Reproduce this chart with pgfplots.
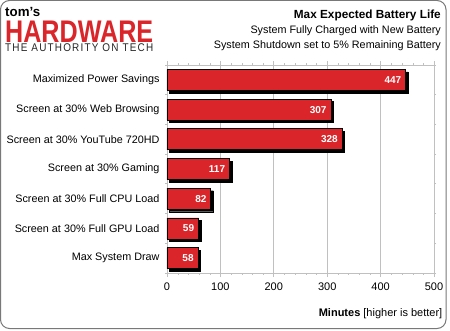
\documentclass[border=0pt]{standalone}
\usepackage{pgfplots}
\pgfplotsset{compat=1.18}
\usepackage{fontspec}
\setmainfont{Liberation Sans}
\definecolor{barred}{RGB}{218,38,42}
\definecolor{gridgray}{RGB}{192,192,192}
\definecolor{bordergray}{RGB}{120,120,120}
\begin{document}
\begin{tikzpicture}[x=1pt,y=1pt]
\useasboundingbox (0,0) rectangle (450,330);
\draw[bordergray, line width=1pt, rounded corners=9pt] (0.5,1.5) rectangle (446,329.5);
% logo
\node[anchor=base west, inner sep=0pt] at (5,330-16.5) {\resizebox{35pt}{!}{\bfseries tom's}};
\node[anchor=base west, inner sep=0pt, text=barred] at (5,330-42.3) {\resizebox{148pt}{21.5pt}{\bfseries HARDWARE}};
\node[anchor=base west, inner sep=0pt, text=black!85] at (5,330-51.5) {\resizebox{148pt}{7.8pt}{\addfontfeatures{LetterSpace=12}THE AUTHORITY ON TECH}};
% titles
\node[anchor=base east, inner sep=0pt] at (441,330-19) {\fontsize{11.8}{13}\selectfont\bfseries Max Expected Battery Life};
\node[anchor=base east, inner sep=0pt] at (441,330-34) {\fontsize{10.8}{12}\selectfont System Fully Charged with New Battery};
\node[anchor=base east, inner sep=0pt] at (441,330-49) {\fontsize{10.8}{12}\selectfont System Shutdown set to 5\% Remaining Battery};
\node[anchor=east, inner sep=0pt] at (442.5,330-313.3) {\fontsize{11}{12}\selectfont\textbf{Minutes} [higher is better]};
\begin{axis}[
  at={(167pt,57pt)}, anchor=south west,
  scale only axis, width=267pt, height=208pt,
  xbar,
  xmin=0, xmax=500,
  ymin=-0.5, ymax=6.5,
  y dir=reverse,
  axis line style={gridgray},
  xtick={0,100,200,300,400,500},
  minor xtick={20,40,60,80,120,140,160,180,220,240,260,280,320,340,360,380,420,440,460,480},
  xmajorgrids, major grid style={gridgray, line width=0.8pt},
  major x tick style={gridgray, line width=0.8pt},
  minor x tick style={gridgray},
  x tick style={gridgray},
  xtick align=outside,
  major tick length=4pt, minor tick length=2pt,
  xticklabel style={font=\fontsize{11}{12}\selectfont, yshift=-2pt},
  /pgf/number format/assume math mode=true,
  ytick={0,1,2,3,4,5,6},
  yticklabels={Maximized Power Savings,Screen at 30\% Web Browsing,Screen at 30\% YouTube 720HD,Screen at 30\% Gaming,Screen at 30\% Full CPU Load,Screen at 30\% Full GPU Load,Max System Draw},
  yticklabel style={font=\fontsize{10.8}{12}\selectfont, xshift=0pt},
  major y tick style={draw=none},
  minor ytick={-0.5,0.5,1.5,2.5,3.5,4.5,5.5,6.5},
  minor y tick style={gridgray, line width=0.8pt},
  ytick align=outside,
  clip=false,
]
\addplot[xbar, bar shift=0pt, bar width=21pt, fill=black, draw=black, xshift=2.5pt, yshift=-2.5pt, forget plot]
  coordinates {(447,0) (307,1) (328,2) (117,3) (82,4) (59,5) (58,6)};
\addplot[xbar, bar shift=0pt, bar width=21pt, fill=barred, draw=black, line width=0.8pt,
  nodes near coords,
  every node near coord/.append style={anchor=east, xshift=-4pt, inner sep=0pt, text=white, font=\fontsize{10}{11}\selectfont\bfseries}]
  coordinates {(447,0) (307,1) (328,2) (117,3) (82,4) (59,5) (58,6)};
\end{axis}
\end{tikzpicture}
\end{document}
